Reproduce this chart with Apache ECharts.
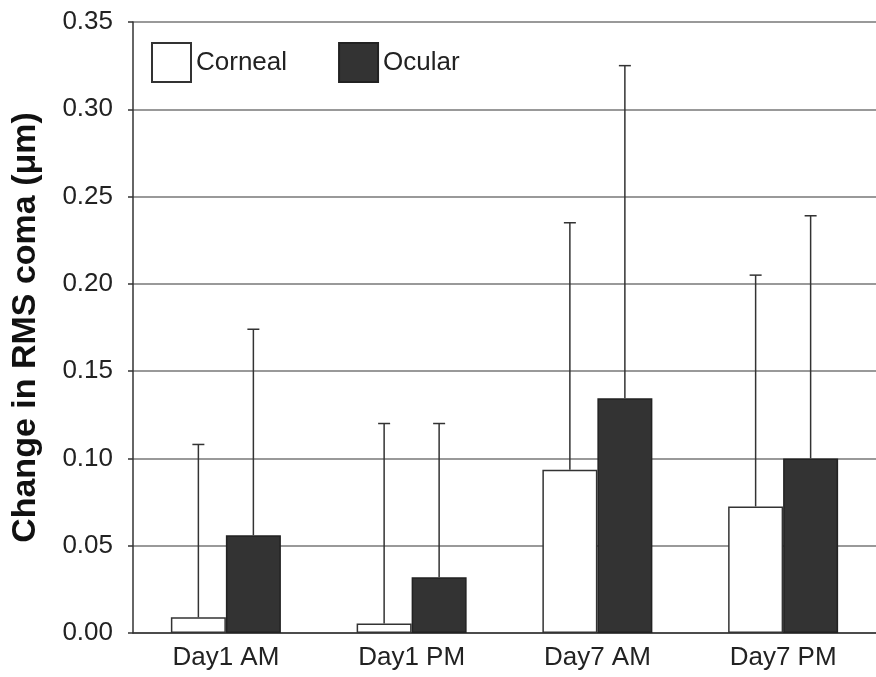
<!DOCTYPE html>
<html>
<head>
<meta charset="utf-8">
<script src="https://cdn.jsdelivr.net/npm/echarts@6/dist/echarts.min.js"></script>
<style>
  html, body { margin: 0; padding: 0; background: #fff; }
  #chart { width: 876px; height: 677px; }
</style>
</head>
<body>
<div id="chart"></div>
<script>
// data
let categories = ["Day1 AM", "Day1 PM", "Day7 AM", "Day7 PM"];
let cornealMean = [0.009, 0.0055, 0.0935, 0.0725];
let cornealUpper = [0.108, 0.120, 0.235, 0.205];
let ocularMean = [0.056, 0.032, 0.1345, 0.100];
let ocularUpper = [0.174, 0.120, 0.325, 0.239];
let yTicks = [0, 0.05, 0.10, 0.15, 0.20, 0.25, 0.30, 0.35];

let chart = echarts.init(document.getElementById("chart"));
let barW = 55;
let font = "Liberation Sans";

// whisker going up from bar top, with a small cap
function errorBar(offset) {
    return function (params, api) {
        let c = api.value(0);
        let p0 = api.coord([c, api.value(1)]);
        let p1 = api.coord([c, api.value(2)]);
        let x = p0[0] + offset;
        let style = { stroke: "#333", lineWidth: 1.5 };
        return {
            type: "group",
            children: [
                { type: "line", shape: { x1: x, y1: p0[1], x2: x, y2: p1[1] }, style: style },
                { type: "line", shape: { x1: x - 6, y1: p1[1], x2: x + 6, y2: p1[1] }, style: style }
            ]
        };
    };
}

function errData(mean, upper) {
    return mean.map(function (m, i) { return [i, m, upper[i]]; });
}

chart.setOption({
    animation: false,
    textStyle: { fontFamily: font },
    grid: { left: 133, width: 750, top: 22, bottom: 44 },
    legend: {
        left: 146,
        top: 37,
        itemWidth: 39,
        itemHeight: 39,
        itemGap: 51,
        icon: "rect",
        textStyle: { fontSize: 26, color: "#222", fontFamily: font },
        data: ["Corneal", "Ocular"]
    },
    xAxis: {
        type: "category",
        data: categories,
        axisLine: { lineStyle: { color: "#333", width: 1.5 } },
        axisTick: { show: false },
        axisLabel: { fontSize: 26, color: "#222", margin: 12 }
    },
    yAxis: {
        type: "value",
        min: yTicks[0],
        max: yTicks[yTicks.length - 1],
        interval: 0.05,
        name: "Change in RMS coma (μm)",
        nameLocation: "middle",
        nameGap: 90,
        nameTextStyle: { fontSize: 34, fontWeight: "bold", color: "#111", fontFamily: font },
        axisLine: { show: true, lineStyle: { color: "#333", width: 1.5 } },
        axisTick: { show: true, length: 5, lineStyle: { color: "#333", width: 1.5 } },
        axisLabel: {
            fontSize: 26,
            color: "#222",
            margin: 20,
            formatter: function (v) { return v.toFixed(2); }
        },
        splitLine: { show: true, lineStyle: { color: "#777", width: 1.5 } }
    },
    series: [
        {
            name: "Corneal",
            type: "bar",
            data: cornealMean,
            barWidth: barW,
            barGap: "0%",
            itemStyle: { color: "#fff", borderColor: "#333", borderWidth: 1.5 },
            z: 3
        },
        {
            name: "Ocular",
            type: "bar",
            data: ocularMean,
            barWidth: barW,
            barGap: "0%",
            itemStyle: { color: "#333", borderColor: "#222", borderWidth: 1.5 },
            z: 3
        },
        {
            type: "custom",
            renderItem: errorBar(-barW / 2),
            data: errData(cornealMean, cornealUpper),
            z: 4
        },
        {
            type: "custom",
            renderItem: errorBar(barW / 2),
            data: errData(ocularMean, ocularUpper),
            z: 4
        }
    ]
});

window.onresize = function () {
    chart.resize();
};
</script>
</body>
</html>
